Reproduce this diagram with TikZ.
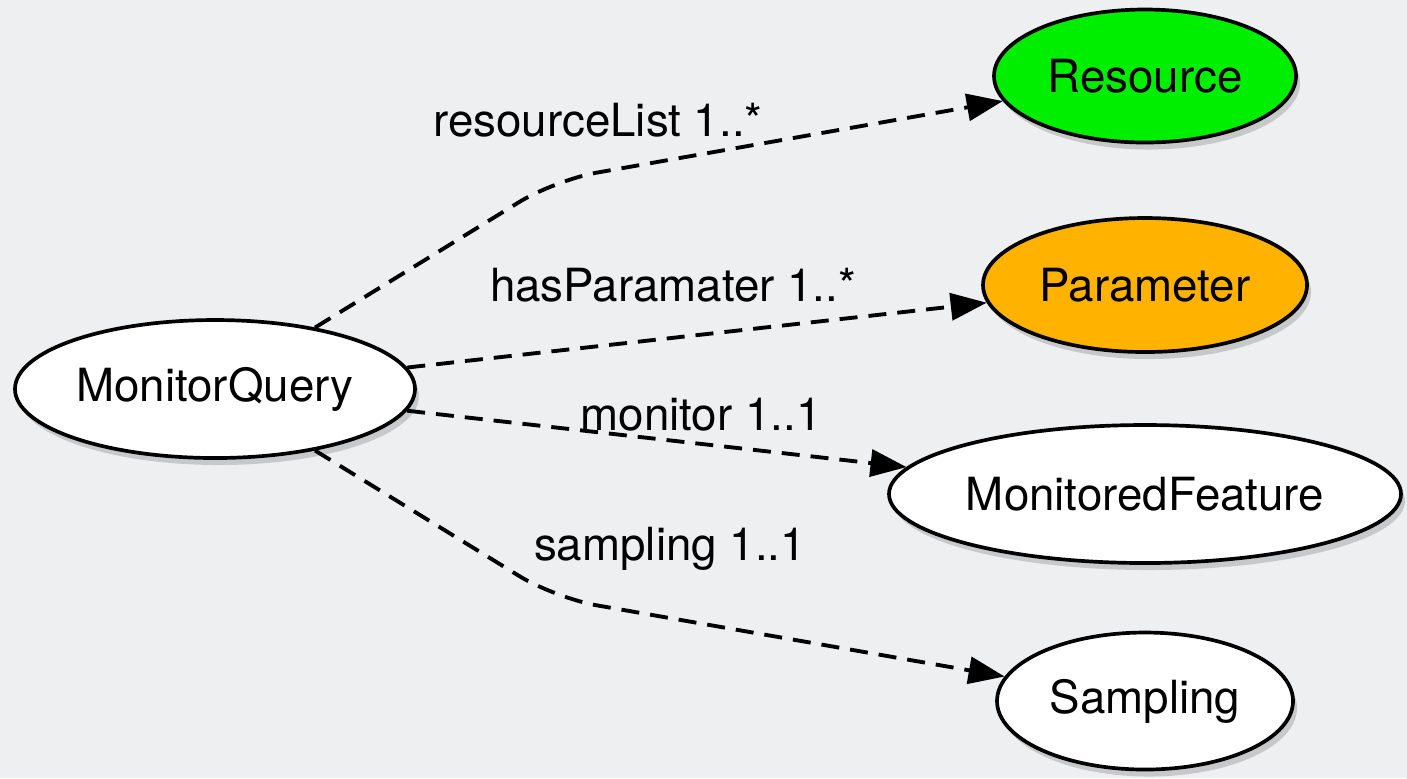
\documentclass[tikz,border=0pt]{standalone}
\usepackage{fontspec}
\setmainfont{TeX Gyre Heros}
\usetikzlibrary{shapes.geometric,shadows,arrows.meta}

\definecolor{slidebg}{HTML}{EEEFF1}
\definecolor{resgreen}{HTML}{00EE00}
\definecolor{parorange}{HTML}{FFB200}

\tikzset{
  classnode/.style={draw=black, line width=1.05pt, fill=white,
                    shape=ellipse, inner sep=0pt,
                    drop shadow={opacity=.35, shadow xshift=0.04cm, shadow yshift=-0.07cm},
                    font=\fontsize{13}{15}\selectfont},
  proplabel/.style={font=\fontsize{13}{15}\selectfont, inner sep=0pt},
  propline/.style={dash pattern=on 0.18cm off 0.11cm, line width=1.1pt,
                   -{Triangle[length=0.36cm,width=0.27cm]}}
}

\begin{document}
\begin{tikzpicture}

\pgfmathsetmacro{\colx}{11.45}

% background
\fill[slidebg] (0,0) rectangle (14.07,-7.78);
\useasboundingbox (0,0) rectangle (14.07,-7.78);

% NODES

\node(query)[classnode, minimum width=4cm, minimum height=1.38cm]
        at (2.15,-3.89) {MonitorQuery};

\node(resource)[classnode, fill=resgreen,
        minimum width=3.02cm, minimum height=1.33cm]
        at (\colx,-0.76) {Resource};

\node(parameter)[classnode, fill=parorange,
        minimum width=3.24cm, minimum height=1.34cm]
        at (\colx,-2.85) {Parameter};

\node(feature)[classnode, minimum width=5.12cm, minimum height=1.38cm]
        at (\colx,-4.94) {MonitoredFeature};

\node(sampling)[classnode, minimum width=2.96cm, minimum height=1.37cm]
        at (\colx,-7.01) {Sampling};

\coordinate (bendA) at (5.55,-1.80);
\coordinate (bendB) at (5.55,-5.98);

% LINKS

\draw[propline, rounded corners=12pt] (query) -- (bendA) -- (resource);
\draw[propline] (query) -- (parameter);
\draw[propline] (query) -- (feature);
\draw[propline, rounded corners=12pt] (query) -- (bendB) -- (sampling);

% labels
\node(resLabel)[proplabel] at (5.98,-1.20) {resourceList 1..*};
\node(parLabel)[proplabel] at (6.73,-2.85) {hasParamater 1..*};
\node(monLabel)[proplabel] at (7.01,-4.15) {monitor 1..1};
\node(samLabel)[proplabel] at (6.70,-5.49) {sampling 1..1};

\end{tikzpicture}
\end{document}
